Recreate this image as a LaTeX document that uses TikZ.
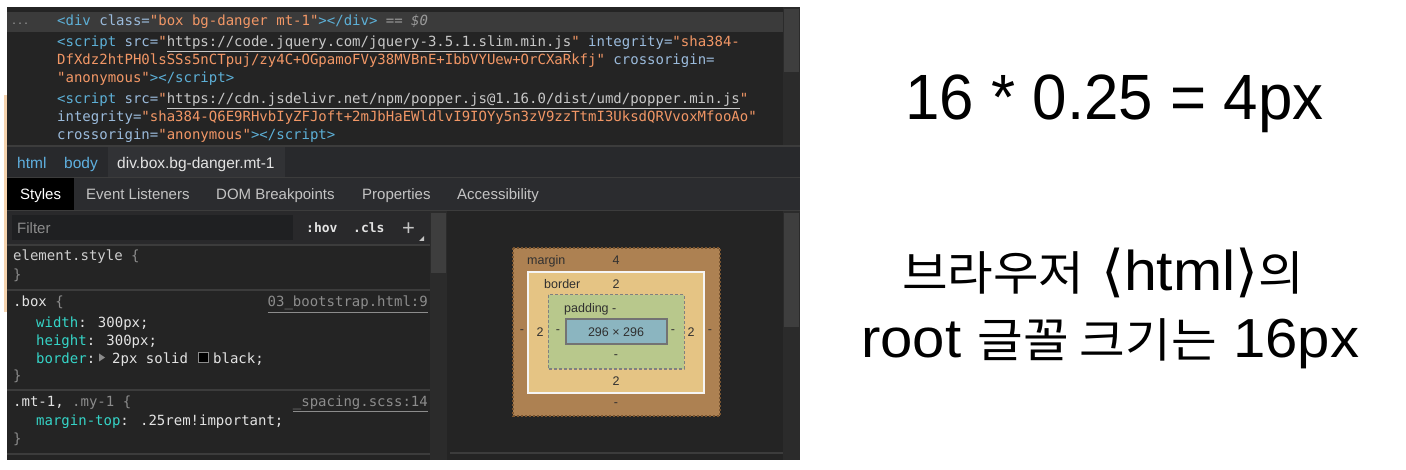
\documentclass[tikz,border=0pt]{standalone}
\usepackage{fontspec}
\setmainfont{Liberation Sans}
\newfontfamily\codefont{DejaVu Sans Mono}
\newfontfamily\cjkfont{Noto Sans CJK KR}
\newfontfamily\djvfont{DejaVu Sans}
\definecolor{bgc}{HTML}{242424}
\definecolor{selrow}{HTML}{3B3B3B}
\definecolor{sbtrack}{HTML}{2B2B2B}
\definecolor{sbthumb}{HTML}{3E3E3E}
\definecolor{sepc}{HTML}{3C3C3C}
\definecolor{crumbbg}{HTML}{28292C}
\definecolor{crumbsel}{HTML}{313235}
\definecolor{tabbg}{HTML}{2B2C2F}
\definecolor{filterrow}{HTML}{29292B}
\definecolor{filterbg}{HTML}{1F2022}
\definecolor{tagc}{HTML}{5DB0D7}
\definecolor{attrc}{HTML}{9BBBDC}
\definecolor{valc}{HTML}{F29766}
\definecolor{linkc}{HTML}{C8C8C8}
\definecolor{dimc}{HTML}{9A9A9A}
\definecolor{propc}{HTML}{35D4C7}
\definecolor{textc}{HTML}{E3E3E3}
\definecolor{grayc}{HTML}{8C8C8C}
\definecolor{uic}{HTML}{C4C4C4}
\definecolor{crumbc}{HTML}{5FB0E0}
\definecolor{marginc}{HTML}{AD8152}
\definecolor{marginedge}{HTML}{7A5530}
\definecolor{borderc}{HTML}{E5C484}
\definecolor{paddingc}{HTML}{B8C88C}
\definecolor{contentc}{HTML}{8BB5C0}
\definecolor{bmtext}{HTML}{303030}
\definecolor{stripc}{HTML}{F5D3AE}
\newcommand\hTag[1]{\textcolor{tagc}{#1}}
\newcommand\hAttr[1]{\textcolor{attrc}{#1}}
\newcommand\hVal[1]{\textcolor{valc}{#1}}
\newcommand\hLink[1]{\textcolor{linkc}{\underline{#1}}}
\newcommand\hProp[1]{\textcolor{propc}{#1}}
\newcommand\hDim[1]{\textcolor{grayc}{#1}}
\newcommand\kor[1]{{\cjkfont\fontsize{47}{47}\selectfont #1}}
\newcommand\brk[1]{{\djvfont\fontsize{56}{56}\selectfont #1}}
\tikzset{
  codeline/.style={anchor=base west, inner sep=0pt, text=textc, font=\codefont\fontsize{14}{16}\selectfont},
  uiline/.style={anchor=base west, inner sep=0pt, text=uic, font=\fontsize{15}{17}\selectfont},
  bmlabel/.style={anchor=center, inner sep=0pt, text=bmtext, font=\fontsize{12.5}{14}\selectfont},
  bigtext/.style={inner sep=0pt, text=black},
  sepline/.style={draw=sepc, line width=1.5pt}
}
\begin{document}
\begin{tikzpicture}[x=1pt,y=-1pt]
\useasboundingbox (0,0) rectangle (1406,470);
\fill[white] (0,0) rectangle (1406,470);
% screenshot background
\fill[bgc] (7,7) rectangle (800,460);
\fill[stripc] (4,95) rectangle (6.5,312);
% ---------- elements panel ----------
\fill[selrow] (7,12) rectangle (783,32);
\fill[sbtrack] (783,7) rectangle (800,145);
\fill[sbthumb] (784,9) rectangle (799,72);
\node[codeline, text=dimc, font=\codefont\fontsize{10}{12}\selectfont] (dots) at (11,25) {...};
\node[codeline] (e1) at (57,26) {\hTag{<div} \hAttr{class=}\hVal{"box bg-danger mt-1"}\hTag{></div>}\textcolor{dimc}{\itshape{} == \$0}};
\node[codeline] (e2) at (57,47) {\hTag{<script} \hAttr{src=}\hVal{"}\hLink{https://code.jquery.com/jquery-3.5.1.slim.min.js}\hVal{"} \hAttr{integrity=}\hVal{"sha384-}};
\node[codeline] (e3) at (57,65) {\hVal{DfXdz2htPH0lsSSs5nCTpuj/zy4C+OGpamoFVy38MVBnE+IbbVYUew+OrCXaRkfj"} \hAttr{crossorigin=}};
\node[codeline] (e4) at (57,83) {\hVal{"anonymous"}\hTag{></script>}};
\node[codeline] (e5) at (57,104) {\hTag{<script} \hAttr{src=}\hVal{"}\hLink{https://cdn.jsdelivr.net/npm/popper.js@1.16.0/dist/umd/popper.min.js}\hVal{"}};
\node[codeline] (e6) at (57,122) {\hAttr{integrity=}\hVal{"sha384-Q6E9RHvbIyZFJoft+2mJbHaEWldlvI9IOYy5n3zV9zzTtmI3UksdQRVvoxMfooAo"}};
\node[codeline] (e7) at (57,140) {\hAttr{crossorigin=}\hVal{"anonymous"}\hTag{></script>}};
\draw[sepline] (7,146) -- (800,146);
% ---------- breadcrumbs ----------
\fill[crumbbg] (7,147) rectangle (800,177);
\fill[crumbsel] (108,147) rectangle (285,177);
\node[uiline, text=crumbc, font=\fontsize{15.5}{17}\selectfont] (c1) at (17,169) {html};
\node[uiline, text=crumbc, font=\fontsize{15.5}{17}\selectfont] (c2) at (64,169) {body};
\node[uiline, text=textc, font=\fontsize{15.5}{17}\selectfont] (c3) at (117,169) {div.box.bg-danger.mt-1};
% ---------- tabs ----------
\fill[tabbg] (7,178) rectangle (800,210);
\draw[sepc] (7,177.5) -- (800,177.5);
\fill[black] (7,178) rectangle (74,210);
\node[uiline, text=white] (tab1) at (20,200) {Styles};
\node[uiline] (tab2) at (86,200) {Event Listeners};
\node[uiline] (tab3) at (216,200) {DOM Breakpoints};
\node[uiline] (tab4) at (362,200) {Properties};
\node[uiline] (tab5) at (457,200) {Accessibility};
\draw[sepc] (7,210.5) -- (800,210.5);
% ---------- styles pane ----------
\fill[filterrow] (7,211) rectangle (430,245);
\fill[filterbg] (12,215) rectangle (293,240);
\node[uiline, text=grayc] (filter) at (17,234) {Filter};
\node[codeline, font=\codefont\bfseries\fontsize{13}{15}\selectfont] (hov) at (306,233) {:hov};
\node[codeline, font=\codefont\bfseries\fontsize{13}{15}\selectfont] (cls) at (353,233) {.cls};
\node[codeline, text=uic, font=\fontsize{22}{22}\selectfont] (plus) at (402,236) {+};
\fill[uic] (424,236) -- (424,241) -- (419,241) -- cycle;
\draw[sepline] (7,245) -- (430,245);
\node[codeline, text=textc!80!gray] (s1) at (13,261) {element.style \hDim{\{}};
\node[codeline, text=grayc] (s2) at (13,280) {\}};
\draw[sepline] (7,290) -- (430,290);
\node[codeline] (s3) at (13,307) {.box \hDim{\{}};
\node[codeline, anchor=base east, text=grayc] (src1) at (428,307) {\underline{03\_bootstrap.html:9}};
\node[codeline] (s4) at (36,327) {\hProp{width}: 300px;};
\node[codeline] (s5) at (36,345) {\hProp{height}: 300px;};
\node[codeline] (s6a) at (36,363) {\hProp{border}:};
\fill[grayc] (99,353.5) -- (99,361.5) -- (105,357.5) -- cycle;
\node[codeline] (s6b) at (112,363) {2px solid};
\fill[black] (198,352) rectangle (208,362);
\draw[grayc, line width=0.6pt] (198,352) rectangle (208,362);
\node[codeline] (s6c) at (213,363) {black;};
\node[codeline, text=grayc] (s7) at (13,381) {\}};
\draw[sepline] (7,390) -- (430,390);
\node[codeline] (s8) at (13,406) {.mt-1, \hDim{.my-1 \{}};
\node[codeline, anchor=base east, text=grayc] (src2) at (428,406) {\underline{\_spacing.scss:14}};
\node[codeline] (s9) at (36,425) {\hProp{margin-top}: .25rem!important;};
\node[codeline, text=grayc] (s10) at (13,443) {\}};
\draw[sepline] (7,454) -- (430,454);
% left scrollbar and divider
\fill[sbtrack] (430,211) rectangle (447,460);
\fill[sbthumb] (431,213) rectangle (446,273);
\fill[sepc!60!black] (447,211) rectangle (449.5,460);
% right scrollbar
\fill[sbtrack] (783,211) rectangle (800,460);
\fill[sbthumb] (784,213) rectangle (799,327);
\draw[sepline] (450,453) -- (783,453);
% ---------- box model ----------
\fill[marginc] (513,248) rectangle (720,416);
\draw[marginedge, line width=1.3pt, dash pattern=on 2pt off 2pt] (513,248) rectangle (720,416);
\fill[borderc] (528,272) rectangle (704,393);
\draw[white!92!gray, line width=1.5pt] (528,272) rectangle (704,393);
\fill[paddingc] (548,295) rectangle (684,369);
\draw[gray, line width=1pt, dash pattern=on 3pt off 2pt] (548,295) rectangle (684,369);
\fill[contentc] (566,319) rectangle (667,344);
\draw[gray!90!black, line width=1.5pt] (566,319) rectangle (667,344);
\node[bmlabel, anchor=base west] (mlab) at (527,265) {margin};
\node[bmlabel] (mtop) at (616,260) {4};
\node[bmlabel, anchor=base west] (blab) at (544,289) {border};
\node[bmlabel] (btop) at (616,284) {2};
\node[bmlabel, anchor=base west] (plab) at (564,313) {padding -};
\node[bmlabel] (content) at (616,332) {296 × 296};
\node[bmlabel] (ml) at (522,332) {-};
\node[bmlabel] (bl) at (540,332) {2};
\node[bmlabel] (pl) at (558,332) {-};
\node[bmlabel] (pr) at (673,332) {-};
\node[bmlabel] (br) at (691,332) {2};
\node[bmlabel] (mr) at (710,332) {-};
\node[bmlabel] (pb) at (616,357) {-};
\node[bmlabel] (bb) at (616,381) {2};
\node[bmlabel] (mb) at (616,405) {-};
% ---------- right text ----------
\node[bigtext, anchor=base, font=\fontsize{64}{64}\selectfont] (eq) at (1114.5,120) {\resizebox{418pt}{\height}{16 * 0.25 = 4px}};
\node[bigtext, anchor=base west, font=\fontsize{56}{56}\selectfont] (l2) at (902,291) {\resizebox{402pt}{\height}{\kor{브라우저} \brk{⟨}html\brk{⟩}\kor{의}}};
\node[bigtext, anchor=base west, font=\fontsize{55}{55}\selectfont] (l3) at (861,357) {\resizebox{498pt}{\height}{root \kor{글꼴 크기는} 16px}};
\end{tikzpicture}
\end{document}
